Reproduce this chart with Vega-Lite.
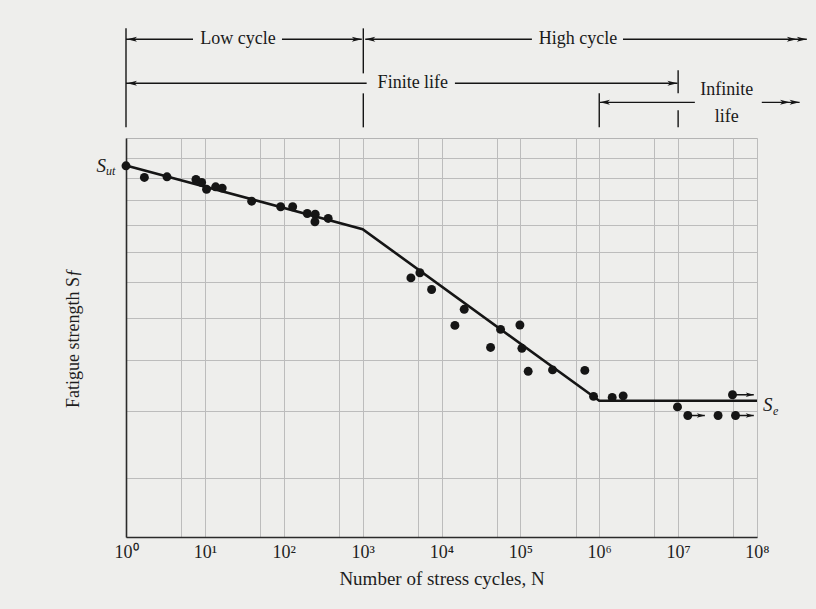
{
  "$schema": "https://vega.github.io/schema/vega-lite/v6.json",
  "width": 631,
  "height": 399,
  "autosize": {"type": "none"},
  "padding": {"left": 126, "top": 138, "right": 59, "bottom": 72},
  "background": "#eeeeec",
  "config": {
    "view": {"stroke": "#b4b4b4", "strokeWidth": 1, "fill": "#eeeeec"},
    "font": "Liberation Serif",
    "text": {"font": "Liberation Serif", "color": "#1a1a1a"}
  },
  "datasets": {
    "points": [
      {"N": 1.0, "S": 116.1}, {"N": 1.71, "S": 110.4}, {"N": 3.31, "S": 110.7}, {"N": 7.71, "S": 109.4},
      {"N": 9.1, "S": 108.0}, {"N": 10.5, "S": 104.9}, {"N": 13.7, "S": 106.0}, {"N": 16.6, "S": 105.4},
      {"N": 39.2, "S": 99.6}, {"N": 91.4, "S": 97.2}, {"N": 129.7, "S": 97.2}, {"N": 198.6, "S": 94.4},
      {"N": 250.6, "S": 94.1}, {"N": 248.5, "S": 91.1}, {"N": 366, "S": 92.4}, {"N": 4093, "S": 71.4},
      {"N": 5322, "S": 73.0}, {"N": 7490, "S": 67.9}, {"N": 19400, "S": 62.3}, {"N": 14790, "S": 58.1},
      {"N": 56100, "S": 57.1}, {"N": 41900, "S": 52.8}, {"N": 98600, "S": 58.2}, {"N": 104500, "S": 52.6},
      {"N": 125600, "S": 47.6}, {"N": 255900, "S": 47.9}, {"N": 656000, "S": 47.8}, {"N": 847000, "S": 42.7},
      {"N": 1459000, "S": 42.5}, {"N": 2010000, "S": 42.8}, {"N": 9820000, "S": 40.8}, {"N": 13270000, "S": 39.3},
      {"N": 32100000, "S": 39.3}, {"N": 53400000, "S": 39.3}, {"N": 48900000, "S": 43.0}
    ],
    "curve": [
      {"N": 1, "S": 116.3}, {"N": 1000, "S": 88.2}, {"N": 1000000, "S": 41.9}, {"N": 100000000, "S": 41.9}
    ],
    "runouts": [
      {"N": 13270000, "N2": 21800000, "S": 39.3},
      {"N": 53400000, "N2": 91000000, "S": 39.3},
      {"N": 48900000, "N2": 91000000, "S": 43.0}
    ],
    "hseg": [
      {"N": 1, "N2": 7.07, "S": 201},
      {"N": 94.9, "N2": 975, "S": 201},
      {"N": 1080, "N2": 140000, "S": 201},
      {"N": 2000000, "N2": 428000000, "S": 201},
      {"N": 1, "N2": 1125, "S": 166.1},
      {"N": 14800, "N2": 9800000, "S": 166.1},
      {"N": 1020000, "N2": 16300000, "S": 152.9},
      {"N": 115000000, "N2": 347000000, "S": 152.9}
    ],
    "vseg": [
      {"N": 1, "S": 210.8, "S2": 137.2},
      {"N": 1020, "S": 210.8, "S2": 173.4},
      {"N": 1020, "S": 159.0, "S2": 137.2},
      {"N": 1000000, "S": 159.0, "S2": 137.2},
      {"N": 10000000, "S": 175.7, "S2": 159.0},
      {"N": 10000000, "S": 147.7, "S2": 137.2}
    ],
    "headRight": [
      {"N": 975, "S": 201},
      {"N": 428000000, "S": 201},
      {"N": 320000000, "S": 201},
      {"N": 9800000, "S": 166.1},
      {"N": 347000000, "S": 152.9},
      {"N": 262000000, "S": 152.9}
    ],
    "headLeft": [
      {"N": 1.03, "S": 201},
      {"N": 1080, "S": 201},
      {"N": 1.03, "S": 166.1},
      {"N": 1020000, "S": 152.9}
    ],
    "notes": [
      {"N": 26.3, "S": 201, "text": "Low cycle"},
      {"N": 536000, "S": 201, "text": "High cycle"},
      {"N": 4335, "S": 166.1, "text": "Finite life"},
      {"N": 41400000, "S": 161.1, "text": "Infinite"},
      {"N": 41400000, "S": 143.3, "text": "life"}
    ]
  },
  "encoding": {
    "x": {"field": "N", "type": "quantitative", "scale": {"type": "log", "domain": [1, 100000000], "nice": false}},
    "y": {"field": "S", "type": "quantitative", "scale": {"type": "log", "domain": [23.2, 131], "nice": false, "zero": false}}
  },
  "layer": [
    {
      "data": {"name": "curve"},
      "mark": {"type": "line", "color": "#151515", "strokeWidth": 2.6},
      "encoding": {
        "x": {
          "field": "N", "type": "quantitative",
          "scale": {"type": "log", "domain": [1, 100000000], "nice": false},
          "axis": {
            "values": [1, 5, 10, 50, 100, 500, 1000, 5000, 10000, 50000, 100000, 500000, 1000000, 5000000, 10000000, 50000000, 100000000],
            "labelExpr": "indexof([1,10,100,1000,10000,100000,1000000,10000000,100000000], datum.value) >= 0 ? '10' + ['⁰','¹','²','³','⁴','⁵','⁶','⁷','⁸'][indexof([1,10,100,1000,10000,100000,1000000,10000000,100000000], datum.value)] : ''",
            "ticks": false,
            "grid": true,
            "gridColor": "#bcbcbc",
            "gridWidth": 1,
            "domainColor": "#2a2a2a",
            "domainWidth": 1.6,
            "labelFont": "Liberation Serif",
            "labelFontSize": 18,
            "labelColor": "#1e1e1e",
            "labelPadding": 6,
            "labelFlush": false,
            "labelOverlap": false,
            "title": "Number of stress cycles, N",
            "titleFont": "Liberation Serif",
            "titleFontSize": 19,
            "titleFontWeight": "normal",
            "titleColor": "#1e1e1e",
            "titlePadding": 8
          }
        },
        "y": {
          "field": "S", "type": "quantitative",
          "scale": {"type": "log", "domain": [23.2, 131], "nice": false, "zero": false},
          "axis": {
            "values": [30, 40, 50, 60, 70, 80, 90, 100, 110, 120],
            "labels": false,
            "ticks": false,
            "grid": true,
            "gridColor": "#bcbcbc",
            "gridWidth": 1,
            "domainColor": "#2a2a2a",
            "domainWidth": 1.6,
            "title": "Fatigue strength Sƒ",
            "titleFont": "Liberation Serif",
            "titleFontSize": 18,
            "titleFontWeight": "normal",
            "titleColor": "#1e1e1e",
            "titlePadding": 44
          }
        }
      }
    },
    {
      "data": {"name": "runouts"},
      "mark": {"type": "rule", "color": "#151515", "strokeWidth": 1.5},
      "encoding": {"x2": {"field": "N2"}}
    },
    {
      "data": {"name": "runouts"},
      "mark": {"type": "point", "shape": "M0,0L-2,-0.55L-1.5,0L-2,0.55Z", "filled": true, "color": "#151515", "opacity": 1, "size": 64},
      "encoding": {"x": {"field": "N2", "type": "quantitative"}}
    },
    {
      "data": {"name": "points"},
      "mark": {"type": "circle", "color": "#151515", "opacity": 1, "size": 80}
    },
    {
      "data": {"name": "hseg"},
      "mark": {"type": "rule", "color": "#151515", "strokeWidth": 1.4},
      "encoding": {"x2": {"field": "N2"}}
    },
    {
      "data": {"name": "vseg"},
      "mark": {"type": "rule", "color": "#151515", "strokeWidth": 1.4},
      "encoding": {"y2": {"field": "S2"}}
    },
    {
      "data": {"name": "headRight"},
      "mark": {"type": "point", "shape": "M0,0L-2,-0.5L-1.5,0L-2,0.5Z", "filled": true, "color": "#151515", "opacity": 1, "size": 100}
    },
    {
      "data": {"name": "headLeft"},
      "mark": {"type": "point", "shape": "M0,0L2,-0.5L1.5,0L2,0.5Z", "filled": true, "color": "#151515", "opacity": 1, "size": 100}
    },
    {
      "data": {"name": "notes"},
      "mark": {"type": "text", "fontSize": 18, "baseline": "middle", "align": "center"},
      "encoding": {"text": {"field": "text"}}
    },
    {
      "data": {"values": [{"N": 1, "S": 116.3, "t": "S"}]},
      "mark": {"type": "text", "fontSize": 19, "fontStyle": "italic", "align": "right", "baseline": "middle", "dx": -20, "dy": 1},
      "encoding": {"text": {"field": "t"}}
    },
    {
      "data": {"values": [{"N": 1, "S": 116.3, "t": "ut"}]},
      "mark": {"type": "text", "fontSize": 12, "fontStyle": "italic", "align": "left", "baseline": "middle", "dx": -20, "dy": 6},
      "encoding": {"text": {"field": "t"}}
    },
    {
      "data": {"values": [{"N": 100000000, "S": 41.9, "t": "S"}]},
      "mark": {"type": "text", "fontSize": 19, "fontStyle": "italic", "align": "left", "baseline": "middle", "dx": 6, "dy": 4},
      "encoding": {"text": {"field": "t"}}
    },
    {
      "data": {"values": [{"N": 100000000, "S": 41.9, "t": "e"}]},
      "mark": {"type": "text", "fontSize": 12, "fontStyle": "italic", "align": "left", "baseline": "middle", "dx": 16, "dy": 10},
      "encoding": {"text": {"field": "t"}}
    }
  ]
}
